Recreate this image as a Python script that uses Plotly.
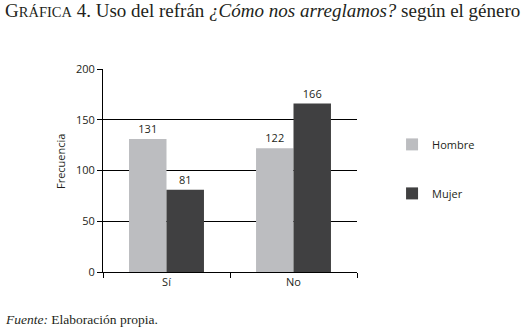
import plotly.graph_objects as go

categories = ["Sí", "No"]
hombre = [131, 122]
mujer = [81, 166]
series_names = ["Hombre", "Mujer"]
y_ticks = [0, 50, 100, 150, 200]

SANS = "Open Sans"
SERIF = "Liberation Serif"

fig = go.Figure()
fig.add_bar(x=categories, y=hombre, name=series_names[0], marker_color="#bcbdc0",
            marker_line_width=0, text=[str(v) for v in hombre], textposition="outside",
            cliponaxis=False, textfont=dict(family=SANS, size=11, color="#231f20"),
            legendgroup="h")
fig.add_bar(x=categories, y=mujer, name=series_names[1], marker_color="#404041",
            marker_line_width=0, text=[str(v) for v in mujer], textposition="outside",
            cliponaxis=False, textfont=dict(family=SANS, size=11, color="#231f20"),
            legendgroup="m")

fig.update_layout(
    width=527, height=330,
    margin=dict(l=103, r=170, t=69, b=58),
    paper_bgcolor="white", plot_bgcolor="white",
    barmode="group", bargap=0.41, bargroupgap=0,
    font=dict(family=SANS, size=11, color="#231f20"),
    showlegend=True,
    legend=dict(x=1.138, y=0.70, xanchor="left", yanchor="top",
                traceorder="grouped", tracegroupgap=30,
                font=dict(family=SANS, size=11, color="#231f20"),
                bgcolor="rgba(0,0,0,0)"),
    annotations=[
        dict(text="G<span style='font-size:14.5px'>RÁFICA</span> 4. Uso del refrán <i>¿Cómo nos arreglamos?</i> según el género",
             xref="paper", yref="paper", x=(3-103)/254, y=(272-10)/203,
             xanchor="left", yanchor="middle", showarrow=False,
             font=dict(family=SERIF, size=19, color="#231f20")),
        dict(text="Frecuencia", textangle=-90, xref="paper", yref="paper",
             x=(60-103)/254, y=(272-162)/203, xanchor="center", yanchor="middle",
             showarrow=False, font=dict(family=SANS, size=11, color="#231f20")),
        dict(text="<i>Fuente:</i> Elaboración propia.", xref="paper", yref="paper",
             x=(3-103)/254, y=(272-319)/203, xanchor="left", yanchor="middle",
             showarrow=False, font=dict(family=SERIF, size=13.5, color="#231f20")),
    ],
    yaxis=dict(range=[0, 200], tickvals=y_ticks, ticks="outside", ticklen=5,
               tickcolor="black", showline=True, linecolor="black", linewidth=1,
               showgrid=True, gridcolor="black", gridwidth=1, zeroline=False,
               tickfont=dict(family=SANS, size=11, color="#231f20")),
    xaxis=dict(showline=True, linecolor="black", linewidth=1, ticks="outside",
               tickson="boundaries", ticklen=5, tickcolor="black", showgrid=False,
               tickfont=dict(family=SANS, size=11, color="#231f20")),
)

fig.write_html("out.html", config={"displayModeBar": False},
               post_script="document.body.style.margin='0';document.body.style.overflow='hidden';")
